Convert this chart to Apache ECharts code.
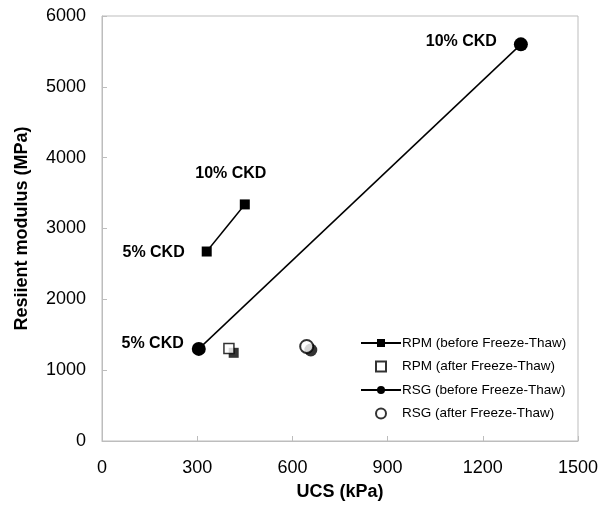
<!DOCTYPE html>
<html>
<head>
<meta charset="utf-8">
<script src="https://cdn.jsdelivr.net/npm/echarts@6/dist/echarts.min.js"></script>
<style>
  html, body { margin: 0; padding: 0; background: #fff; }
  #chart { width: 612px; height: 520px; }
</style>
</head>
<body>
<div id="chart"></div>
<script>
// values: [UCS kPa, resilient modulus MPa]
var rpmBefore = [[330, 2675], [450, 3340]];
var rpmAfter = [[400, 1305]];
var rpmAfterBack = [[415, 1245]];
var rsgBefore = [[305, 1300], [1320, 5600]];
var rsgAfter = [[645, 1335]];
var rsgAfterBack = [[658, 1285]];
var rpmLabels = ["5% CKD", "10% CKD"];
var rsgLabels = ["5% CKD", "10% CKD"];
var xTicks = [0, 1500, 300];
var yTicks = [0, 6000, 1000];

var font = "Liberation Sans, Arial, sans-serif";
var grey = "#bdbdbd";
var square = "path://M0,0L10,0L10,10L0,10Z";

var labelStyle = { show: true, color: "#000", fontFamily: font, fontWeight: "bold", fontSize: 16 };

// per-point label placement
var rpmLabelPos = [
  { position: "left", distance: 17, offset: [0, 1] },
  { position: "top", distance: 18, offset: [-14, 0] }
];
var rsgLabelPos = [
  { position: "left", distance: 8, offset: [0, -5] },
  { position: "left", distance: 17, offset: [0, -3] }
];

function withLabels(points, texts, pos) {
  return points.map(function (p, i) {
    return {
      value: p,
      label: Object.assign({}, labelStyle, pos[i], { formatter: texts[i] })
    };
  });
}

var chart = echarts.init(document.getElementById("chart"), null, { renderer: "canvas" });

chart.setOption({
  animation: false,
  backgroundColor: "#fff",
  grid: {
    left: 102, right: 34, top: 16, bottom: 79,
    show: true, borderColor: grey, borderWidth: 1
  },
  legend: {
    orient: "vertical",
    left: 355, top: 331,
    itemWidth: 40, itemHeight: 10, itemGap: 9.5,
    textStyle: { fontFamily: font, fontSize: 13.5, color: "#000", padding: [0, 0, 0, -4] },
    data: [
      { name: "RPM (before Freeze-Thaw)" },
      { name: "RPM (after Freeze-Thaw)", icon: square },
      { name: "RSG (before Freeze-Thaw)" },
      { name: "RSG (after Freeze-Thaw)" }
    ]
  },
  xAxis: {
    type: "value",
    min: xTicks[0], max: xTicks[1], interval: xTicks[2],
    name: "UCS (kPa)",
    nameLocation: "middle", nameGap: 42,
    nameTextStyle: { fontFamily: font, fontWeight: "bold", fontSize: 18, color: "#000" },
    axisLine: { lineStyle: { color: grey } },
    axisTick: { inside: true, length: 5, lineStyle: { color: grey } },
    axisLabel: { fontFamily: font, fontSize: 18, color: "#000", margin: 18, formatter: String },
    splitLine: { show: false }
  },
  yAxis: {
    type: "value",
    min: yTicks[0], max: yTicks[1], interval: yTicks[2],
    name: "Resiient modulus (MPa)",
    nameLocation: "middle", nameGap: 71,
    nameTextStyle: { fontFamily: font, fontWeight: "bold", fontSize: 18, color: "#000" },
    axisLine: { show: true, lineStyle: { color: grey } },
    axisTick: { show: true, inside: true, length: 5, lineStyle: { color: grey } },
    axisLabel: { fontFamily: font, fontSize: 18, color: "#000", margin: 16, formatter: String },
    splitLine: { show: false }
  },
  series: [
    {
      name: "RPM back", type: "scatter", symbol: "rect", symbolSize: 10,
      itemStyle: { color: "#000" }, data: rpmAfterBack
    },
    {
      name: "RSG back", type: "scatter", symbol: "circle", symbolSize: 13,
      itemStyle: { color: "#000" }, data: rsgAfterBack
    },
    {
      name: "RPM (before Freeze-Thaw)", type: "line", symbol: "rect", symbolSize: 10,
      itemStyle: { color: "#000" }, lineStyle: { color: "#000", width: 1.5 },
      data: withLabels(rpmBefore, rpmLabels, rpmLabelPos)
    },
    {
      name: "RPM (after Freeze-Thaw)", type: "scatter", symbol: "rect", symbolSize: 10,
      itemStyle: { color: "#fff", borderColor: "#000", borderWidth: 1.5 },
      data: rpmAfter
    },
    {
      name: "RSG (before Freeze-Thaw)", type: "line", symbol: "circle", symbolSize: 14,
      itemStyle: { color: "#000" }, lineStyle: { color: "#000", width: 1.5 },
      data: withLabels(rsgBefore, rsgLabels, rsgLabelPos)
    },
    {
      name: "RSG (after Freeze-Thaw)", type: "scatter", symbol: "circle", symbolSize: 13,
      itemStyle: { color: "#fff", borderColor: "#000", borderWidth: 2 },
      data: rsgAfter
    }
  ]
});
</script>
</body>
</html>
